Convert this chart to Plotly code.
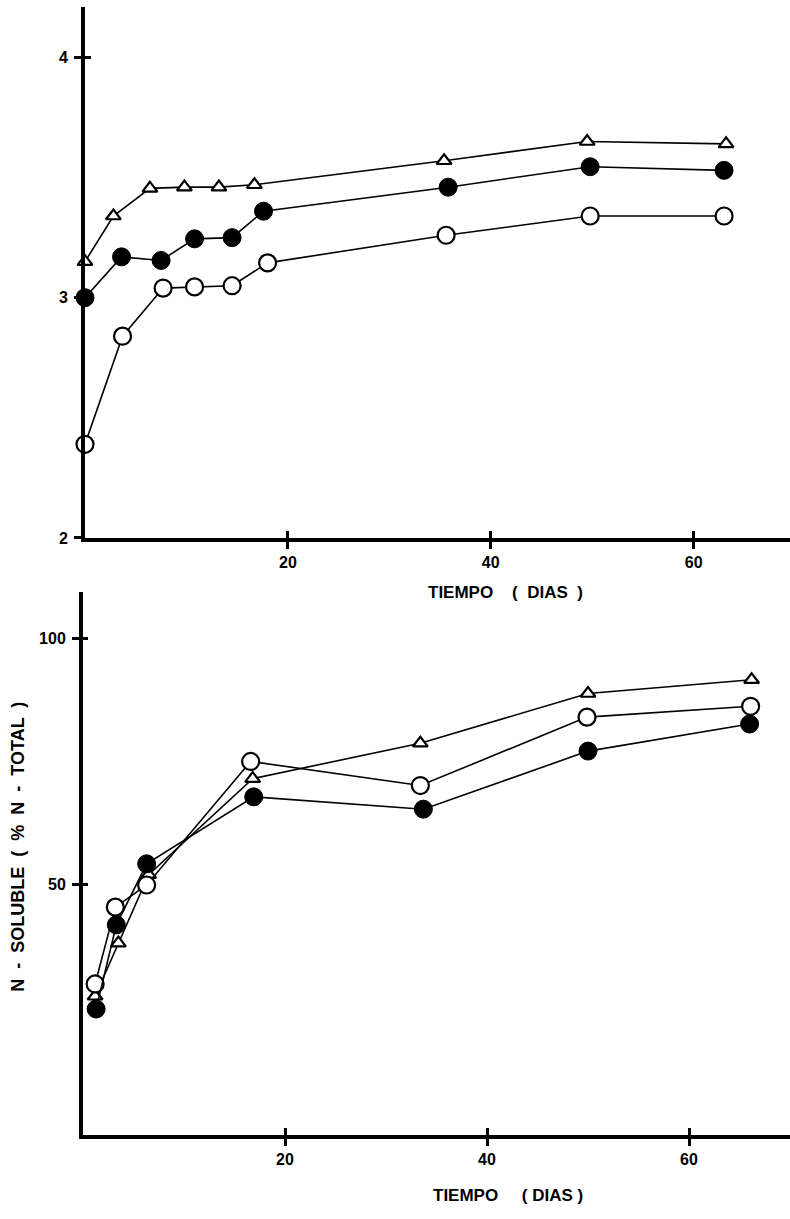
import plotly.graph_objects as go

# ---------- Top panel data ----------
top_tri_x = [0, 2.8, 6.4, 9.8, 13.2, 16.7, 35.4, 49.5, 63.2]
top_tri_y = [3.15, 3.34, 3.455, 3.46, 3.46, 3.47, 3.57, 3.65, 3.64]
top_fill_x = [0, 3.6, 7.5, 10.8, 14.5, 17.6, 35.8, 49.8, 63.0]
top_fill_y = [3.0, 3.17, 3.155, 3.245, 3.25, 3.36, 3.46, 3.545, 3.53]
top_open_x = [0, 3.7, 7.7, 10.8, 14.5, 18.0, 35.6, 49.8, 63.0]
top_open_y = [2.39, 2.84, 3.04, 3.045, 3.05, 3.145, 3.26, 3.34, 3.34]

# ---------- Bottom panel data ----------
bot_tri_x = [1.2, 3.5, 6.5, 16.8, 33.4, 50.0, 66.2]
bot_tri_y = [27.3, 38.1, 52.0, 71.5, 78.7, 88.8, 91.6]
bot_open_x = [1.2, 3.2, 6.3, 16.6, 33.4, 49.9, 66.1]
bot_open_y = [29.8, 45.4, 49.9, 75.0, 70.1, 84.0, 86.2]
bot_fill_x = [1.3, 3.3, 6.3, 16.9, 33.7, 50.0, 66.0]
bot_fill_y = [24.7, 41.8, 54.2, 67.8, 65.3, 77.1, 82.6]

top_yticks = [2, 3, 4]
bot_yticks = [50, 100]
xticks = [20, 40, 60]

FONT = "Liberation Sans"
W, H = 790, 1219

def tri(x, y, xa, ya):
    return go.Scatter(x=x, y=y, xaxis=xa, yaxis=ya, mode="lines+markers",
                      line=dict(color="black", width=1.6),
                      marker=dict(symbol="triangle-up", size=13, color="white",
                                  line=dict(color="black", width=2.2)),
                      showlegend=False, cliponaxis=False, hoverinfo="skip")

def opn(x, y, xa, ya):
    return go.Scatter(x=x, y=y, xaxis=xa, yaxis=ya, mode="lines+markers",
                      line=dict(color="black", width=1.6),
                      marker=dict(symbol="circle", size=17, color="white",
                                  line=dict(color="black", width=2.2)),
                      showlegend=False, cliponaxis=False, hoverinfo="skip")

def fil(x, y, xa, ya):
    return go.Scatter(x=x, y=y, xaxis=xa, yaxis=ya, mode="lines+markers",
                      line=dict(color="black", width=1.6),
                      marker=dict(symbol="circle", size=18, color="black",
                                  line=dict(color="black", width=1)),
                      showlegend=False, cliponaxis=False, hoverinfo="skip")

fig = go.Figure()
fig.add_trace(tri(top_tri_x, top_tri_y, "x", "y"))
fig.add_trace(fil(top_fill_x, top_fill_y, "x", "y"))
fig.add_trace(opn(top_open_x, top_open_y, "x", "y"))
fig.add_trace(tri(bot_tri_x, bot_tri_y, "x2", "y2"))
fig.add_trace(opn(bot_open_x, bot_open_y, "x2", "y2"))
fig.add_trace(fil(bot_fill_x, bot_fill_y, "x2", "y2"))

def px_x(p):
    return p / W

def px_y(p):
    return (H - p) / H

tickfont = dict(family=FONT, size=16, color="black", weight="bold")

top_xdom = [px_x(85), 1.0]
top_ydom = [px_y(542), px_y(7)]
bot_xdom = [px_x(83), 1.0]
bot_ydom = [px_y(1143), px_y(596)]

axis_common = dict(showgrid=False, zeroline=False, showline=True, linecolor="black",
                   linewidth=4, ticks="outside", tickcolor="black", tickwidth=2.5,
                   ticklen=7, tickfont=tickfont)

fig.update_layout(
    width=W, height=H, margin=dict(l=0, r=0, t=0, b=0),
    paper_bgcolor="white", plot_bgcolor="white",
    xaxis=dict(domain=top_xdom, range=[0, 69.5], anchor="y", tickvals=xticks,
               **axis_common),
    yaxis=dict(domain=top_ydom, range=[2, 4.21], anchor="x", tickvals=top_yticks,
               ticklabelstandoff=3, **axis_common),
    xaxis2=dict(domain=bot_xdom, range=[0, 70.0], anchor="y2", tickvals=xticks,
                **axis_common),
    yaxis2=dict(domain=bot_ydom, range=[-0.8, 109.5], anchor="x2", tickvals=bot_yticks,
                ticklabelstandoff=3, **axis_common),
    # overlay axes to make ticks cross the axis lines
    xaxis3=dict(overlaying="x", anchor="y", range=[0, 69.5], tickvals=xticks,
                showticklabels=False, showline=False, showgrid=False, zeroline=False,
                ticks="inside", ticklen=7, tickwidth=2.5, tickcolor="black", side="bottom"),
    yaxis3=dict(overlaying="y", anchor="x", range=[2, 4.21], tickvals=top_yticks,
                showticklabels=False, showline=False, showgrid=False, zeroline=False,
                ticks="inside", ticklen=6, tickwidth=2.5, tickcolor="black", side="left"),
    xaxis4=dict(overlaying="x2", anchor="y2", range=[0, 70.0], tickvals=xticks,
                showticklabels=False, showline=False, showgrid=False, zeroline=False,
                ticks="inside", ticklen=7, tickwidth=2.5, tickcolor="black", side="bottom"),
    yaxis4=dict(overlaying="y2", anchor="x2", range=[-0.8, 109.5], tickvals=bot_yticks,
                showticklabels=False, showline=False, showgrid=False, zeroline=False,
                ticks="inside", ticklen=5, tickwidth=2.5, tickcolor="black", side="left"),
    annotations=[
        dict(text="TIEMPO    (  DIAS  )", xref="paper", yref="paper",
             x=px_x(505), y=px_y(597), xanchor="center", yanchor="middle", showarrow=False,
             font=dict(family=FONT, size=17, color="black", weight="bold")),
        dict(text="TIEMPO     ( DIAS )", xref="paper", yref="paper",
             x=px_x(508), y=px_y(1204), xanchor="center", yanchor="middle", showarrow=False,
             font=dict(family=FONT, size=17, color="black", weight="bold")),
        dict(text="N  -  SOLUBLE  (  %  N  -  TOTAL  )", xref="paper", yref="paper",
             x=px_x(18), y=px_y(853), xanchor="center", yanchor="middle",
             showarrow=False, textangle=-90,
             font=dict(family=FONT, size=18, color="black", weight="bold")),
    ],
)

# dummy traces to activate overlay axes
fig.add_trace(go.Scatter(x=[None], y=[None], xaxis="x3", yaxis="y3", showlegend=False))
fig.add_trace(go.Scatter(x=[None], y=[None], xaxis="x4", yaxis="y4", showlegend=False))

fig.write_html("out.html", config={"displayModeBar": False},
               post_script="document.body.style.margin='0';document.body.style.overflow='hidden';")
